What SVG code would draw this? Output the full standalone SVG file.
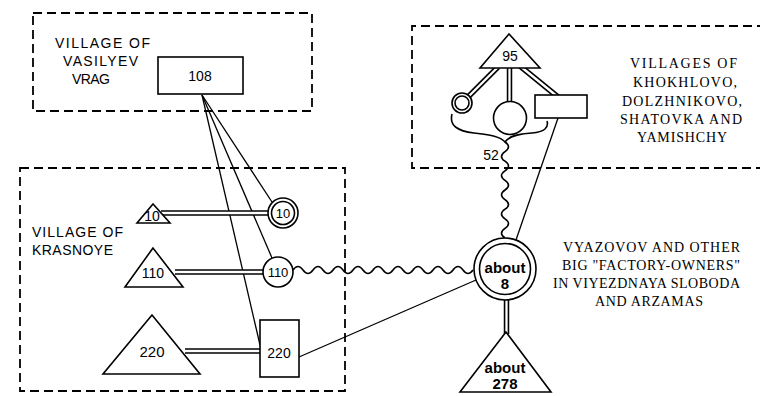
<svg xmlns="http://www.w3.org/2000/svg" width="760" height="396" viewBox="0 0 760 396">
<style>
.ln{fill:none;stroke:#000;stroke-width:1.3}
.dbo{fill:none;stroke:#000;stroke-width:5.5}
.dbi{fill:none;stroke:#fff;stroke-width:2.3}
.wv{fill:none;stroke:#000;stroke-width:1.6}
.sh{fill:#fff;stroke:#000;stroke-width:1.6}
.dash{fill:none;stroke:#000;stroke-width:1.8;stroke-dasharray:9 5}
.num{font-family:"Liberation Sans",Arial,sans-serif;font-size:14px;text-anchor:middle;fill:#000}
.bold{font-weight:bold}
.cs{font-family:"Liberation Sans",Arial,sans-serif;font-size:14px;fill:#000}
.cr{font-family:"Liberation Serif","Times New Roman",serif;font-size:14px;fill:#000}
</style>
<rect width="760" height="396" fill="#fff"/>

<g id="areas">
  <rect class="dash" x="33" y="13" width="279" height="98"/>
  <rect class="dash" x="20" y="168" width="325" height="223"/>
  <path class="dash" d="M766,26 H412 V168 H766"/>
  <text class="cs" x="55" y="48" textLength="95">VILLAGE OF</text>
  <text class="cs" x="63" y="66" textLength="75">VASILYEV</text>
  <text class="cs" x="72" y="84" textLength="38">VRAG</text>
  <text class="cs" x="32" y="237" textLength="91">VILLAGE OF</text>
  <text class="cs" x="32" y="255" textLength="81">KRASNOYE</text>
  <text class="cr" x="630" y="68" textLength="107">VILLAGES OF</text>
  <text class="cr" x="633" y="87" textLength="104">KHOKHLOVO,</text>
  <text class="cr" x="622" y="106" textLength="120">DOLZHNIKOVO,</text>
  <text class="cr" x="620" y="124" textLength="122">SHATOVKA AND</text>
  <text class="cr" x="637" y="142" textLength="90">YAMISHCHY</text>
  <text class="cr" x="563" y="252" textLength="177">VYAZOVOV AND OTHER</text>
  <text class="cr" x="562" y="270" textLength="178">BIG &quot;FACTORY-OWNERS&quot;</text>
  <text class="cr" x="553" y="288" textLength="187">IN VIYEZDNAYA SLOBODA</text>
  <text class="cr" x="595" y="306" textLength="108">AND ARZAMAS</text>
</g>

<g id="connectors">
  <path class="ln" d="M202,95 L272,202"/>
  <path class="ln" d="M202,95 L272,258"/>
  <path class="ln" d="M202,95 L260,345"/>
  <path class="ln" d="M299,357 L476,280"/>
  <path class="ln" d="M558,118 L516,240"/>
  <path class="dbo" d="M161,213 H270"/>
  <path class="dbi" d="M161,213 H270"/>
  <path class="dbo" d="M175,272 H265"/>
  <path class="dbi" d="M175,272 H265"/>
  <path class="dbo" d="M185,351 H262"/>
  <path class="dbi" d="M185,351 H262"/>
  <path class="dbo" d="M506.5,298 V334"/>
  <path class="dbi" d="M506.5,298 V334"/>
  <path class="dbo" d="M498,67 L468,97"/>
  <path class="dbi" d="M498,67 L468,97"/>
  <path class="dbo" d="M509.5,66 V103"/>
  <path class="dbi" d="M509.5,66 V103"/>
  <path class="dbo" d="M520,66 L558,97"/>
  <path class="dbi" d="M520,66 L558,97"/>
  <path class="wv" d="M293,270 q5,-7 10,0 t10,0 t10,0 t10,0 t10,0 t10,0 t10,0 t10,0 t10,0 t10,0 t10,0 t10,0 t10,0 t10,0 t10,0 t10,0 t10,0 t10,0"/>
  <path class="wv" d="M452,114 C449,126 458,131 474,133 C490,135 500,136 505,142 C509,136 518,134 532,133 C544,132 549,128 547,121"/>
  <path class="wv" d="M505,142 q7,4.8 0,9.6 t0,9.6 t0,9.6 t0,9.6 t0,9.6 t0,9.6 t0,9.6 t0,9.6 t0,9.6 t0,9.6"/>
  <text class="num" x="491" y="160">52</text>
</g>

<g id="n108">
  <rect class="sh" x="158" y="57" width="85" height="37"/>
  <text class="num" x="200" y="81">108</text>
</g>
<g id="t10">
  <polygon class="sh" points="153,204 137,223 170,223"/>
  <text class="num" x="152" y="221">10</text>
</g>
<g id="c10">
  <circle class="sh" cx="283" cy="213" r="15"/>
  <circle class="sh" cx="283" cy="213" r="11.5"/>
  <text class="num" x="283" y="218" style="font-size:13px">10</text>
</g>
<g id="t110">
  <polygon class="sh" points="153,248 125,287 183,287"/>
  <text class="num" x="153" y="278">110</text>
</g>
<g id="c110">
  <circle class="sh" cx="278" cy="272" r="15"/>
  <text class="num" x="278" y="277" style="font-size:13px">110</text>
</g>
<g id="t220">
  <polygon class="sh" points="152,315 103,374 200,374"/>
  <text class="num" x="152" y="357" style="font-size:15px">220</text>
</g>
<g id="r220">
  <rect class="sh" x="260" y="320" width="39" height="57"/>
  <text class="num" x="279" y="358">220</text>
</g>
<g id="about8">
  <circle class="sh" cx="505" cy="269" r="31"/>
  <circle class="sh" cx="505" cy="269" r="25.5"/>
  <text class="num bold" x="505" y="273" style="font-size:15px">about</text>
  <text class="num bold" x="505" y="289" style="font-size:15px">8</text>
</g>
<g id="about278">
  <polygon class="sh" points="506,332 460,392 551,392"/>
  <text class="num bold" x="505" y="373" style="font-size:15px">about</text>
  <text class="num bold" x="505" y="389" style="font-size:15px">278</text>
</g>
<g id="t95">
  <polygon class="sh" points="509,34 480,68 540,68"/>
  <text class="num" x="510" y="61">95</text>
</g>
<g id="cSmall">
  <circle class="sh" cx="462" cy="103" r="10"/>
  <circle class="sh" cx="462" cy="103" r="7"/>
</g>
<g id="cMid">
  <circle class="sh" cx="510" cy="118" r="16.5"/>
</g>
<g id="rKh">
  <rect class="sh" x="535" y="95" width="52" height="23"/>
</g>
</svg>
